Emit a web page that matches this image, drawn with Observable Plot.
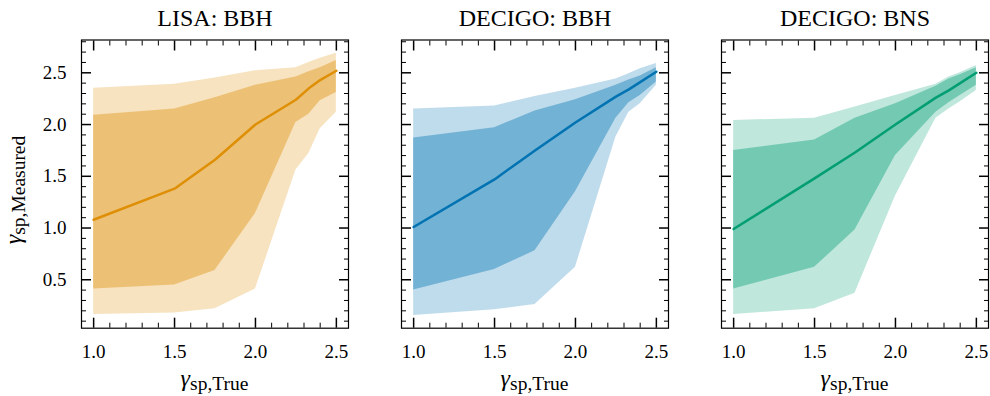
<!DOCTYPE html>
<html><head><meta charset="utf-8">
<script src="https://cdn.jsdelivr.net/npm/d3@7"></script>
<script src="https://cdn.jsdelivr.net/npm/@observablehq/plot@0.6"></script>
<style>
body{margin:0;background:#fff}
#fig{position:relative;width:990px;height:396px;overflow:hidden;font-family:'Liberation Serif',serif;background:#fff}
.panel{position:absolute;top:0}
.lab{position:absolute;white-space:nowrap;font-family:'Liberation Serif',serif;font-style:italic;font-size:24px;line-height:24px;color:#000}
.lab span{font-family:'Liberation Serif',serif;font-style:normal;font-size:19.5px;position:relative;top:3.5px}
svg.panel text{font-family:'Liberation Serif',serif}
</style></head><body><div id="fig"></div>
<script>
// ---- data ----
const gammaTrue = [1.0, 1.5, 1.75, 2.0, 2.25, 2.33, 2.4, 2.5];
const titles = ["LISA: BBH", "DECIGO: BBH", "DECIGO: BNS"];
const colors = ["#DE8F05", "#0173B2", "#029E73"];

const lisaMedian  = [1.08, 1.38, 1.66, 2.00, 2.24, 2.35, 2.43, 2.52];
const lisaInnerLo = [0.41, 0.45, 0.59, 1.14, 2.02, 2.10, 2.23, 2.31];
const lisaInnerHi = [2.09, 2.15, 2.26, 2.38, 2.46, 2.51, 2.55, 2.62];
const lisaOuterLo = [0.165, 0.18, 0.22, 0.41, 1.56, 1.72, 1.96, 2.12];
const lisaOuterHi = [2.35, 2.39, 2.45, 2.52, 2.55, 2.60, 2.64, 2.69];

const decBBHMedian  = [1.01, 1.47, 1.75, 2.02, 2.27, 2.34, 2.41, 2.51];
const decBBHInnerLo = [0.40, 0.60, 0.78, 1.35, 2.06, 2.21, 2.28, 2.41];
const decBBHInnerHi = [1.87, 1.97, 2.13, 2.24, 2.38, 2.43, 2.47, 2.55];
const decBBHOuterLo = [0.155, 0.21, 0.26, 0.62, 1.88, 2.12, 2.20, 2.38];
const decBBHOuterHi = [2.15, 2.18, 2.27, 2.35, 2.44, 2.49, 2.54, 2.59];

const decBNSMedian  = [0.99, 1.48, 1.73, 2.00, 2.26, 2.33, 2.40, 2.50];
const decBNSInnerLo = [0.41, 0.62, 0.98, 1.70, 2.12, 2.21, 2.28, 2.38];
const decBNSInnerHi = [1.75, 1.85, 2.06, 2.20, 2.37, 2.44, 2.48, 2.55];
const decBNSOuterLo = [0.165, 0.22, 0.37, 1.31, 2.06, 2.15, 2.22, 2.33];
const decBNSOuterHi = [2.04, 2.06, 2.17, 2.28, 2.39, 2.46, 2.50, 2.57];

const xMajor = [1.0, 1.5, 2.0, 2.5];
const yMajor = [0.5, 1.0, 1.5, 2.0, 2.5];
const xMinor = d3.range(10, 26).map(d => d / 10).filter(v => !xMajor.some(m => Math.abs(m - v) < 1e-9));
const yMinor = d3.range(1, 29).map(d => d / 10).filter(v => !yMajor.some(m => Math.abs(m - v) < 1e-9));

const series = [
  [lisaMedian, lisaInnerLo, lisaInnerHi, lisaOuterLo, lisaOuterHi],
  [decBBHMedian, decBBHInnerLo, decBBHInnerHi, decBBHOuterLo, decBBHOuterHi],
  [decBNSMedian, decBNSInnerLo, decBNSInnerHi, decBNSOuterLo, decBNSOuterHi]
];

// ---- layout ----
const layout = [
  {left: 0,   width: 370, ml: 81, mr: 22},
  {left: 370, width: 320, ml: 31, mr: 22},
  {left: 690, width: 300, ml: 31, mr: 2}
];
const H = 396, MT = 39.5, MB = 68.3;
const FONT = "'Liberation Serif', serif";
const fig = document.getElementById("fig");
const none = () => "";

series.forEach((s, i) => {
  const [med, inLo, inHi, outLo, outHi] = s;
  const data = gammaTrue.map((x, j) => ({x, med: med[j], inLo: inLo[j], inHi: inHi[j], outLo: outLo[j], outHi: outHi[j]}));
  const c = colors[i];
  const L = layout[i];
  const tickMarks = [];
  for (const a of ["bottom", "top"]) {
    tickMarks.push(Plot.axisX(xMajor, {anchor: a, tickSize: -10, strokeWidth: 1.5, stroke: "#000", tickFormat: none, label: null}));
    tickMarks.push(Plot.axisX(xMinor, {anchor: a, tickSize: -5, strokeWidth: 1, stroke: "#000", tickFormat: none, label: null}));
  }
  for (const a of ["left", "right"]) {
    tickMarks.push(Plot.axisY(yMajor, {anchor: a, tickSize: -10, strokeWidth: 1.5, stroke: "#000", tickFormat: none, label: null}));
    tickMarks.push(Plot.axisY(yMinor, {anchor: a, tickSize: -5, strokeWidth: 1, stroke: "#000", tickFormat: none, label: null}));
  }
  const svg = Plot.plot({
    width: L.width, height: H,
    marginLeft: L.ml, marginRight: L.mr, marginTop: MT, marginBottom: MB,
    style: {fontFamily: FONT, fontSize: "19px", background: "transparent", overflow: "visible", color: "#000"},
    x: {domain: [0.925, 2.575]},
    y: {domain: [0.032, 2.817]},
    marks: [
      Plot.areaY(data, {x: "x", y1: "outLo", y2: "outHi", fill: c, fillOpacity: 0.25}),
      Plot.areaY(data, {x: "x", y1: "inLo", y2: "inHi", fill: c, fillOpacity: 0.4}),
      Plot.lineY(data, {x: "x", y: "med", stroke: c, strokeWidth: 2.5}),
      ...tickMarks,
      Plot.frame({stroke: "#000", strokeWidth: 1.2}),
      Plot.axisX(xMajor, {anchor: "bottom", tickSize: 0, tickPadding: 16.5, tickFormat: d3.format(".1f"), fontSize: 19, fontFamily: FONT, fontVariant: "normal", fill: "#000", label: null}),
      i === 0 ? Plot.axisY(yMajor, {anchor: "left", tickSize: 0, tickPadding: 15, tickFormat: d3.format(".1f"), fontSize: 19, fontFamily: FONT, fontVariant: "normal", fill: "#000", label: null}) : null,
      Plot.text([titles[i]], {frameAnchor: "top", dy: -14.5, lineAnchor: "bottom", fontSize: 24, fontFamily: FONT, fill: "#000"})
    ]
  });
  svg.classList.add("panel");
  svg.style.left = L.left + "px";
  fig.appendChild(svg);

  const cx = L.left + L.ml + (L.width - L.ml - L.mr) / 2;
  const xl = document.createElement("div");
  xl.className = "lab";
  xl.innerHTML = "γ<span>sp,True</span>";
  xl.style.left = cx + "px";
  xl.style.top = "366px";
  xl.style.transform = "translateX(-50%)";
  fig.appendChild(xl);
});

const yl = document.createElement("div");
yl.className = "lab";
yl.innerHTML = "γ<span>sp,Measured</span>";
yl.style.left = "13.5px";
yl.style.top = "190px";
yl.style.transform = "translate(-50%,-50%) rotate(-90deg)";
fig.appendChild(yl);
</script>
</body></html>
